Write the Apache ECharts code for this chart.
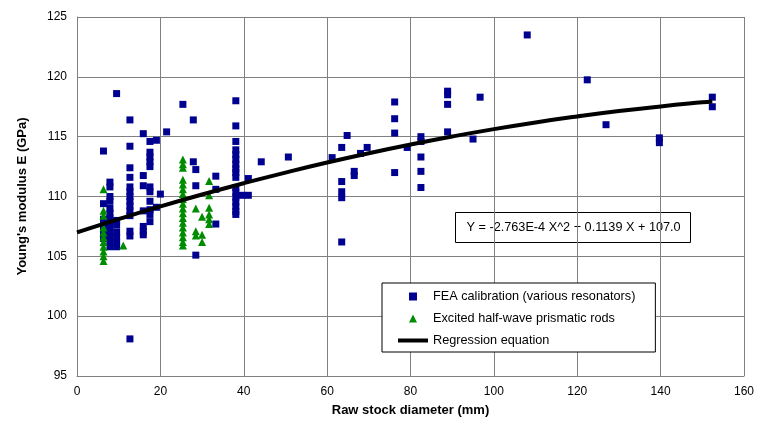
<!DOCTYPE html>
<html>
<head>
<meta charset="utf-8">
<script src="https://cdn.jsdelivr.net/npm/echarts@6/dist/echarts.min.js"></script>
<style>
  html, body { margin: 0; padding: 0; background: #fff; }
  #main-chart { width: 768px; height: 432px; }
</style>
</head>
<body>
<div id="main-chart"></div>
<script>
// FEA calibration points [diameter mm, E GPa]
var feaData = [
    [6.35, 113.8], [6.35, 109.4], [6.35, 108.1], [6.35, 107.7], [6.35, 107.3], [6.35, 106.9], [6.35, 106.5],
    [7.9, 111.2], [7.9, 110.8], [7.9, 110.0], [7.9, 109.6], [7.9, 109.0], [7.9, 108.6], [7.9, 108.2],
    [7.9, 107.8], [7.9, 107.4], [7.9, 107.0], [7.9, 106.6], [7.9, 106.2], [7.9, 105.8],
    [9.5, 118.6], [9.5, 108.0], [9.5, 107.6], [9.5, 107.0], [9.5, 106.6], [9.5, 106.2], [9.5, 105.8],
    [12.7, 116.4], [12.7, 114.2], [12.7, 112.4], [12.7, 111.6], [12.7, 110.8], [12.7, 110.4], [12.7, 110.0],
    [12.7, 109.6], [12.7, 109.2], [12.7, 108.8], [12.7, 108.4], [12.7, 107.1], [12.7, 106.7], [12.7, 98.1],
    [15.9, 115.25], [15.9, 111.75], [15.9, 110.9], [15.9, 108.8], [15.9, 107.5], [15.9, 107.1], [15.9, 106.8],
    [17.5, 114.6], [17.5, 113.7], [17.5, 113.3], [17.5, 112.9], [17.5, 112.5], [17.5, 110.8], [17.5, 110.4],
    [17.5, 109.6], [17.5, 108.9], [17.5, 108.5], [17.5, 107.9],
    [19.05, 114.7], [19.05, 109.1], [20, 110.2], [21.5, 115.4],
    [25.4, 117.7], [27.9, 116.4], [27.9, 112.9], [28.5, 112.25], [28.5, 110.9], [28.5, 105.1],
    [33.3, 111.7], [33.3, 110.6], [33.3, 107.7],
    [38.1, 118.0], [38.1, 115.9], [38.1, 114.6], [38.1, 113.9], [38.1, 113.5], [38.1, 113.1], [38.1, 112.7],
    [38.1, 112.3], [38.1, 112.0], [38.1, 111.6], [38.1, 110.75], [38.1, 110.35], [38.1, 109.95], [38.1, 109.55],
    [38.1, 109.15], [38.1, 108.75], [38.1, 108.5],
    [39.6, 110.1], [41.1, 111.5], [41.1, 110.1], [44.2, 112.9], [50.7, 113.3],
    [61.2, 113.25], [63.5, 114.1], [63.5, 111.25], [63.5, 110.4], [63.5, 109.9], [63.5, 106.2], [64.8, 115.1],
    [66.5, 112.1], [66.5, 111.75], [68, 113.6], [69.6, 114.1],
    [76.2, 117.9], [76.2, 116.5], [76.2, 115.3], [76.2, 112.0], [79.2, 114.1],
    [82.5, 115.0], [82.5, 114.6], [82.5, 113.3], [82.5, 112.1], [82.5, 110.75],
    [88.9, 118.8], [88.9, 118.5], [88.9, 117.7], [88.9, 115.4], [95, 114.8], [96.7, 118.3],
    [108, 123.5], [122.4, 119.75], [126.9, 116.0], [139.7, 114.9], [139.7, 114.5],
    [152.4, 118.3], [152.4, 117.5]
];

// half-wave rod points
var rodData = [
    [6.35, 110.6], [6.35, 108.8], [6.35, 108.4], [6.35, 107.4], [6.35, 107.0], [6.35, 106.6], [6.35, 106.2],
    [6.35, 105.8], [6.35, 105.4], [6.35, 105.0], [6.35, 104.6],
    [11.1, 105.9],
    [25.4, 113.1], [25.4, 112.7], [25.4, 112.4], [25.4, 111.4], [25.4, 111.0], [25.4, 110.6], [25.4, 110.2],
    [25.4, 109.8], [25.4, 109.4], [25.4, 109.0], [25.4, 108.6], [25.4, 108.2], [25.4, 107.8], [25.4, 107.4],
    [25.4, 107.0], [25.4, 106.6], [25.4, 106.2], [25.4, 105.9],
    [28.5, 109.0], [28.5, 107.1], [28.5, 106.75],
    [30, 108.3], [30, 106.8], [30, 106.2],
    [31.7, 111.3], [31.7, 110.1], [31.7, 109.05], [31.7, 108.5], [31.7, 108.1], [31.7, 107.7]
];

// regression curve, values
var regX = [0, 10, 20, 30, 40, 50, 60, 70, 80, 90, 100, 110, 120, 130, 140, 150, 152.4];
var regY = [107.0, 108.11, 109.17, 110.17, 111.11, 112.0, 112.84, 113.62, 114.34, 115.01, 115.63, 116.19, 116.69, 117.14, 117.53, 117.87, 117.94];

var seriesNames = ["FEA calibration (various resonators)", "Excited half-wave prismatic rods", "Regression equation"];
var equationText = "Y = -2.763E-4 X^2 + 0.1139 X + 107.0";

var font = "Liberation Sans, Arial, sans-serif";

var regData = regX.map(function (x, i) { return [x, regY[i]]; });

var myChart = echarts.init(document.getElementById('main-chart'));

var option = {
    animation: false,
    backgroundColor: '#fff',
    grid: {
        left: 77, right: 24, top: 17, bottom: 56
    },
    xAxis: {
        type: 'value',
        min: 0, max: 160, interval: 20,
        name: 'Raw stock diameter (mm)',
        nameLocation: 'middle',
        nameGap: 28,
        nameTextStyle: { fontFamily: font, fontSize: 13, fontWeight: 'bold', color: '#000' },
        axisLine: { lineStyle: { color: '#808080' } },
        axisTick: { show: false },
        axisLabel: { fontFamily: font, fontSize: 12, color: '#000', margin: 10 },
        splitLine: { lineStyle: { color: '#808080', width: 1 } }
    },
    yAxis: {
        type: 'value',
        min: 95, max: 125, interval: 5,
        name: "Young's modulus E (GPa)",
        nameLocation: 'middle',
        nameGap: 48,
        nameTextStyle: { fontFamily: font, fontSize: 13, fontWeight: 'bold', color: '#000' },
        axisLine: { show: true, lineStyle: { color: '#808080' } },
        axisTick: { show: false },
        axisLabel: { fontFamily: font, fontSize: 12, color: '#000', margin: 10 },
        splitLine: { lineStyle: { color: '#808080', width: 1 } }
    },
    legend: {
        orient: 'vertical',
        left: 382, top: 283,
        padding: [7, 20, 5, 16],
        itemWidth: 30, itemHeight: 8, itemGap: 9,
        symbolKeepAspect: true,
        backgroundColor: '#fff',
        borderColor: '#000', borderWidth: 1,
        textStyle: { fontFamily: font, fontSize: 12.7, color: '#000' },
        data: [
            { name: seriesNames[0], icon: 'path://M0,0L1,0L1,1L0,1Z' },
            { name: seriesNames[1], icon: 'path://M0.5,0L1,1L0,1Z' },
            { name: seriesNames[2], icon: 'path://M0,0L30,0L30,4L0,4Z' }
        ]
    },
    graphic: [
        {
            type: 'group',
            left: 455, top: 212,
            children: [
                { type: 'rect', shape: { x: 0, y: 0, width: 235, height: 30 },
                  style: { fill: '#fff', stroke: '#000', lineWidth: 1 } },
                { type: 'text', x: 11, y: 15,
                  style: { text: equationText, font: '12.7px ' + font, fill: '#000', textVerticalAlign: 'middle' } }
            ]
        }
    ],
    series: [
        {
            name: seriesNames[0],
            type: 'scatter',
            symbol: 'rect',
            symbolSize: 7,
            itemStyle: { color: '#000090', opacity: 1 },
            data: feaData
        },
        {
            name: seriesNames[1],
            type: 'scatter',
            symbol: 'triangle',
            symbolSize: 8,
            itemStyle: { color: '#008C00', opacity: 1 },
            data: rodData
        },
        {
            name: seriesNames[2],
            type: 'line',
            smooth: true,
            showSymbol: false,
            symbol: 'none',
            lineStyle: { color: '#000', width: 4 },
            itemStyle: { color: '#000' },
            data: regData
        }
    ]
};

myChart.setOption(option);
</script>
</body>
</html>
